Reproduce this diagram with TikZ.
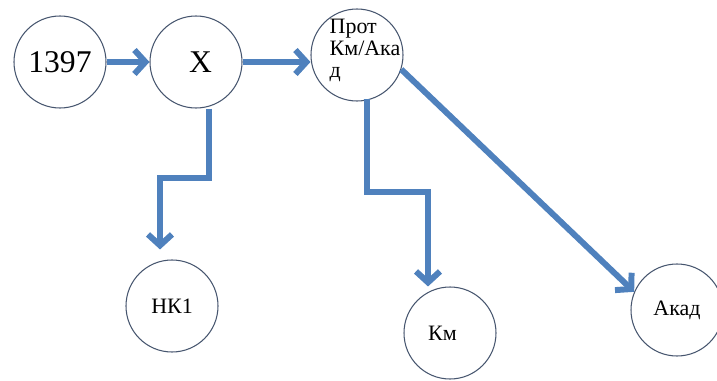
\documentclass[tikz,border=0pt]{standalone}
\usepackage{fontspec}
\setmainfont{Liberation Serif}
\usetikzlibrary{arrows.meta}
\definecolor{flowblue}{RGB}{79,129,189}
\definecolor{ringgrey}{RGB}{70,85,110}
\begin{document}
\begin{tikzpicture}[
  ring/.style = {draw = ringgrey, line width = .6pt, circle,
    minimum size = 1.84cm, inner sep = 0pt,
    font = \fontsize{12.5}{12.5}\selectfont},
  bigtext/.style = {font = \fontsize{18}{20}\selectfont},
  flow/.style = {draw = flowblue, line width = 3.4pt,
    -{Straight Barb[length = .22cm, width = .48cm]}}
]
  \useasboundingbox (0, 0) rectangle (14.34, -7.62);

  \node[ring, bigtext] (n1397) at (1.2, -1.24) {1397};
  \node[ring, bigtext] (nX) at (3.92, -1.24) {\hspace{.18cm}X};
  \node[ring, label = {[xshift = .16cm, yshift = .1cm, align = left,
    font = \fontsize{12.5}{12.5}\selectfont]center:Прот\\Км/Ака\\д}]
    (nProt) at (7.14, -1.1) {};

  \node[ring] (nNK) at (3.44, -6.12) {НК1};
  \node[ring] (nKm) at (9.0, -6.66) {\hspace{-.3cm}Км};
  \node[ring] (nAkad) at (13.54, -6.2) {Акад};

  \draw[flow] (n1397.east) -- (nX.west);
  \draw[flow] (nX.east) -- (nX.east -| nProt.west);
  \draw[flow] ([xshift = .26cm]nX.south) -- ++(0, -1.38)
    -| ([xshift = -.24cm, yshift = .2cm]nNK.north);
  \draw[flow] ([xshift = .2cm, yshift = .06cm]nProt.south) -- ++(0, -1.86)
    -| ([xshift = -.44cm]nKm.north);
  \draw[flow] (nProt.-18) -- (nAkad.157);
\end{tikzpicture}
\end{document}
